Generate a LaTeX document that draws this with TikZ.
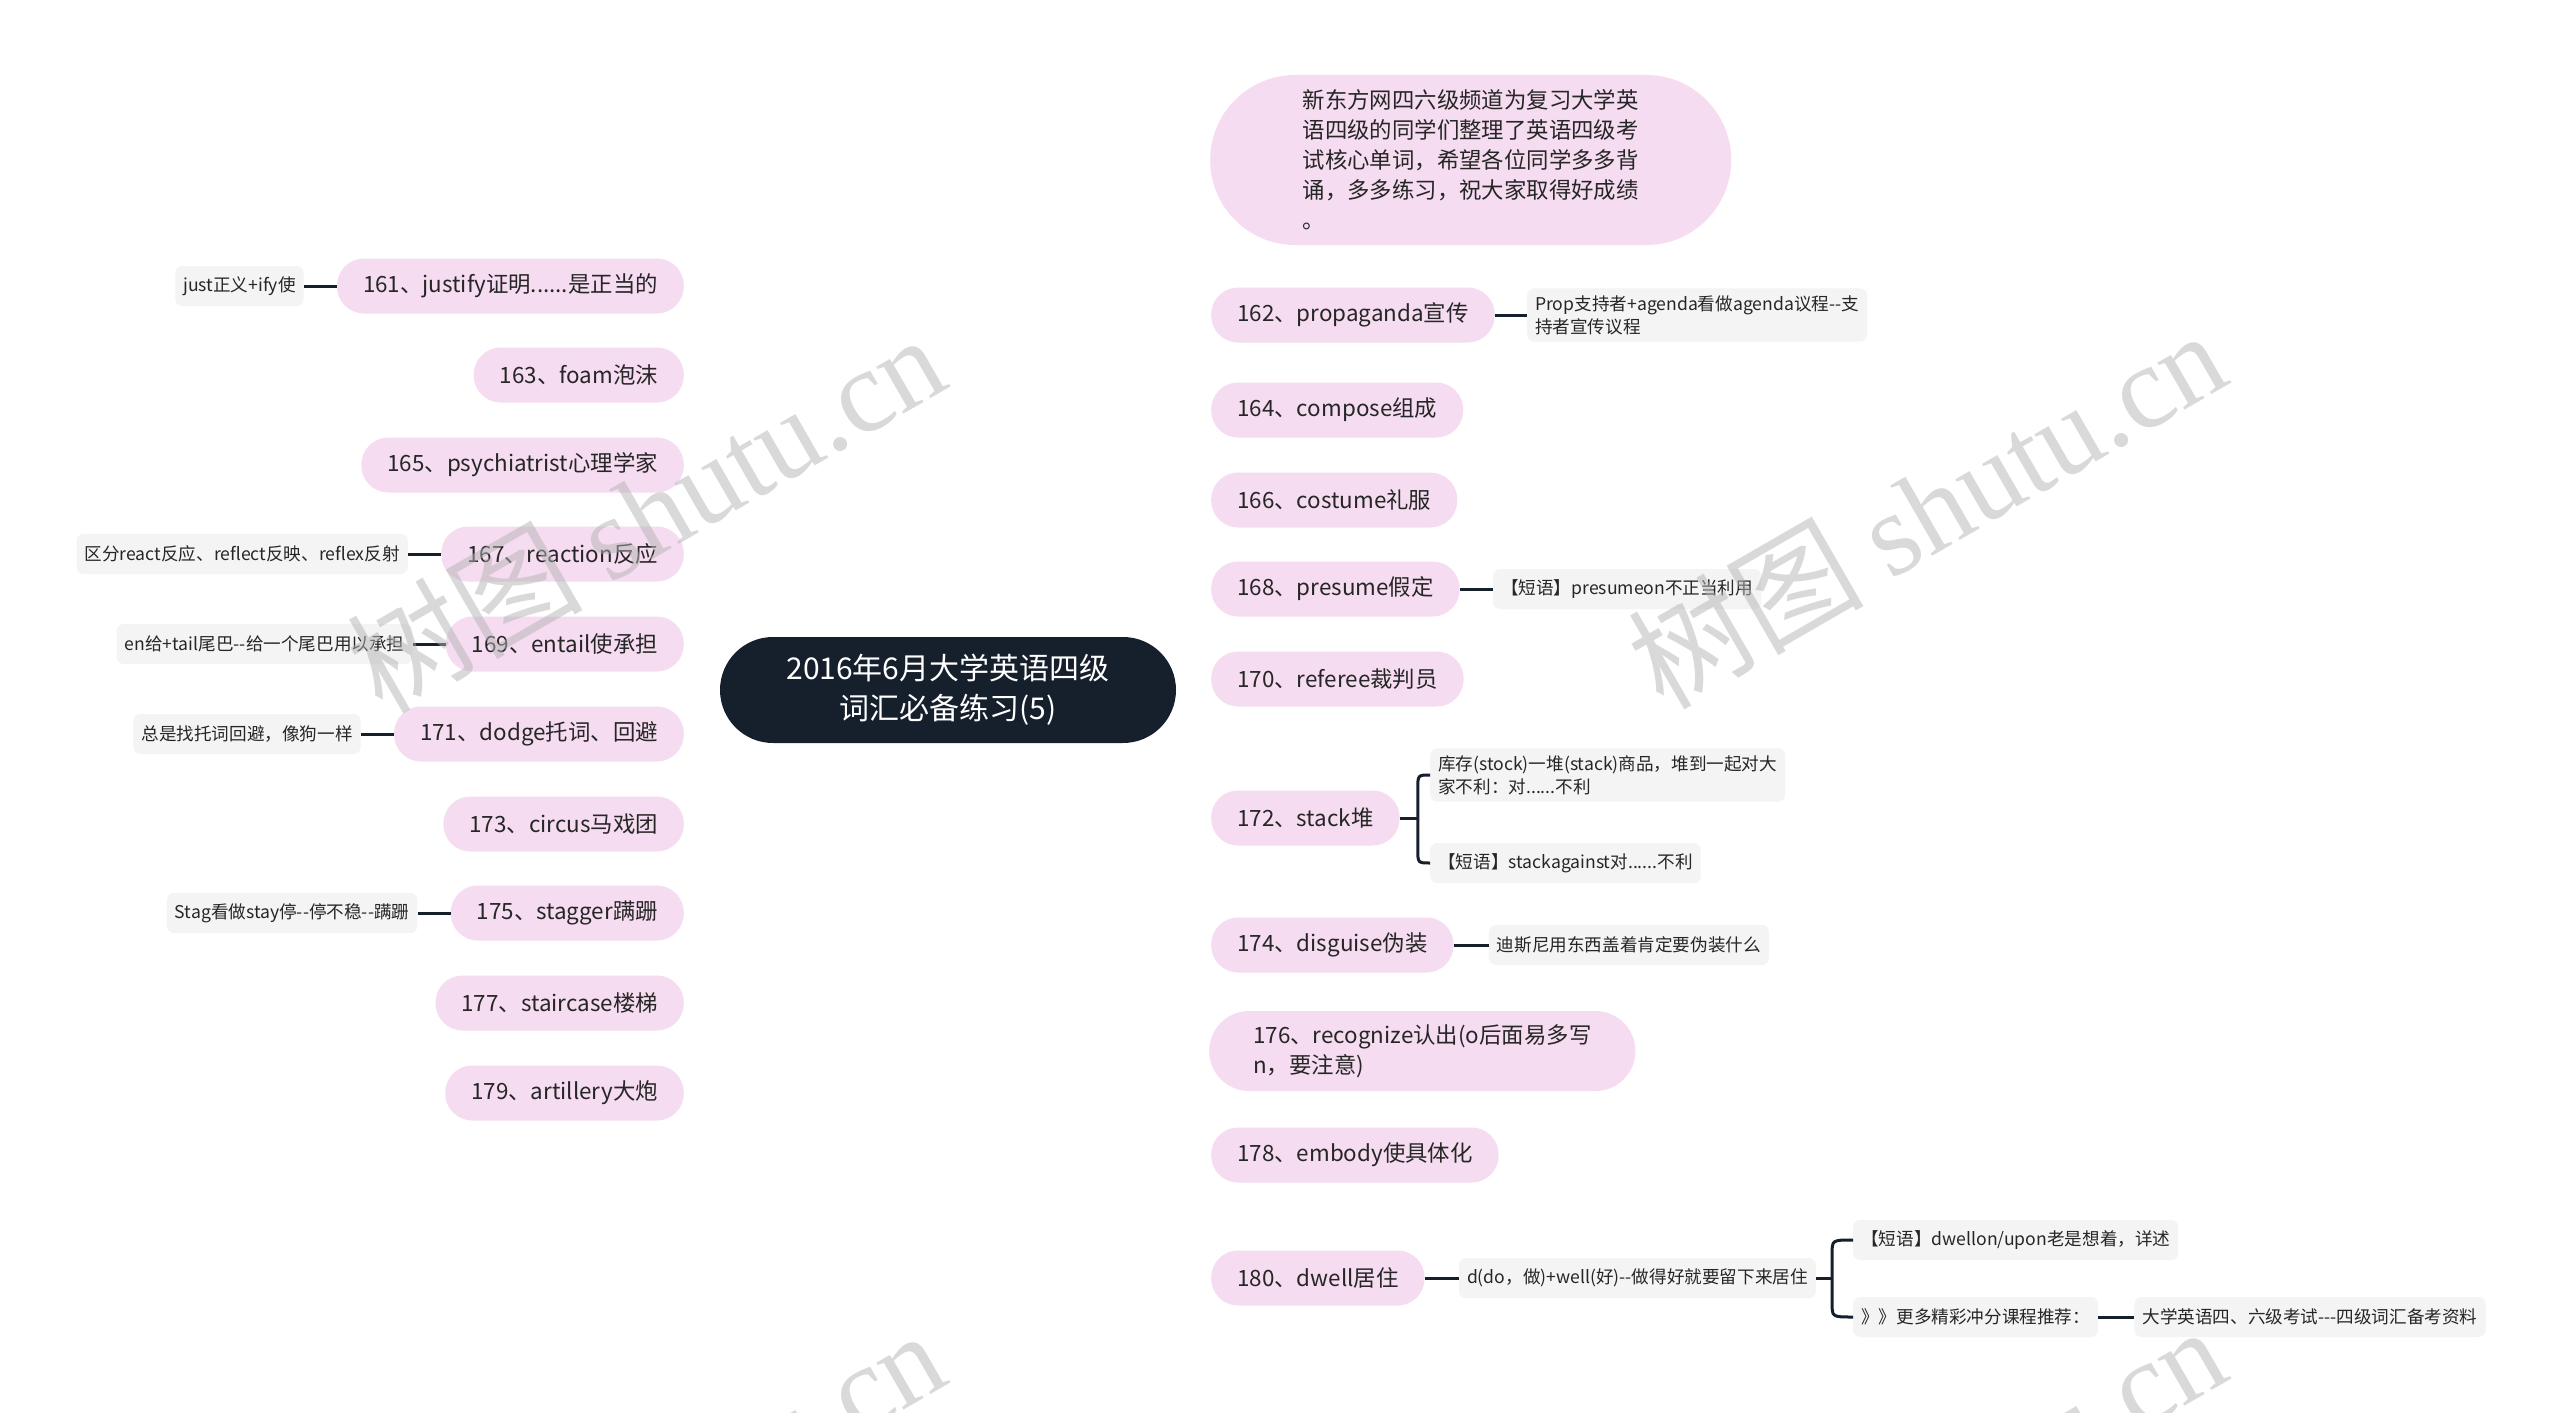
\documentclass[tikz,border=0pt]{standalone}
\usepackage{fontspec}
\setmainfont{Noto Sans CJK SC}
\newfontfamily\wmlatin{Liberation Serif}
\usetikzlibrary{positioning,calc,backgrounds}
\definecolor{pinkfill}{HTML}{F5DCF0}
\definecolor{navy}{HTML}{16202D}
\definecolor{notegray}{HTML}{F4F4F4}
\definecolor{txt}{HTML}{262626}
\definecolor{wm}{HTML}{B4B4B4}
\tikzset{
  mainbox/.style={fill=pinkfill, rounded corners=27pt, minimum height=55pt, inner xsep=26pt, inner ysep=0pt, font=\fontsize{22.4}{30}\selectfont, text=txt},
  notebox/.style={fill=notegray, rounded corners=7pt, minimum height=40pt, inner xsep=8pt, inner ysep=7pt, font=\fontsize{17.6}{23}\selectfont, text=txt, align=left},
  link/.style={draw=navy, line width=2.4pt},
  sublink/.style={draw=navy, line width=3pt},
  watermark/.style={rotate=30, text=wm, opacity=0.5, font=\fontsize{118}{118}\selectfont},
}
\newcommand\branchline[2]{%
  \draw[link] (#1) .. controls ($(#1)!0.667!(#1|-#2)$) and ($(#2)!0.667!(#1|-#2)$) .. (#2);}
\begin{document}
\begin{tikzpicture}[x=1pt,y=-1pt]
\useasboundingbox (0,0) rectangle (2560,1413);
\fill[white] (0,0) rectangle (2560,1413);
\node[fill=navy, rounded corners=53pt, minimum width=456pt, minimum height=106pt, inner sep=0pt, text=white, align=center, font=\fontsize{30}{40}\selectfont] (root) at (948,690) {2016年6月大学英语四级\\词汇必备练习(5)};
% left side
\node[mainbox, anchor=east] (n161) at (684,286) {161、justify证明......是正当的};
\node[mainbox, anchor=east] (n163) at (684,375) {163、foam泡沫};
\node[mainbox, anchor=east] (n165) at (684,465) {165、psychiatrist心理学家};
\node[mainbox, anchor=east] (n167) at (684,554) {167、reaction反应};
\node[mainbox, anchor=east] (n169) at (684,644) {169、entail使承担};
\node[mainbox, anchor=east] (n171) at (684,734) {171、dodge托词、回避};
\node[mainbox, anchor=east] (n173) at (684,824) {173、circus马戏团};
\node[mainbox, anchor=east] (n175) at (684,913) {175、stagger蹒跚};
\node[mainbox, anchor=east] (n177) at (684,1003) {177、staircase楼梯};
\node[mainbox, anchor=east] (n179) at (684,1093) {179、artillery大炮};
% right side
\node[mainbox, anchor=west, align=left, inner xsep=88pt, minimum width=521pt, minimum height=170pt, rounded corners=85pt] (intro) at (1210,160) {新东方网四六级频道为复习大学英\\语四级的同学们整理了英语四级考\\试核心单词，希望各位同学多多背\\诵，多多练习，祝大家取得好成绩\\。};
\node[mainbox, anchor=west] (n162) at (1211,315) {162、propaganda宣传};
\node[mainbox, anchor=west] (n164) at (1211,410) {164、compose组成};
\node[mainbox, anchor=west] (n166) at (1211,500) {166、costume礼服};
\node[mainbox, anchor=west] (n168) at (1211,589) {168、presume假定};
\node[mainbox, anchor=west] (n170) at (1211,679) {170、referee裁判员};
\node[mainbox, anchor=west] (n172) at (1211,818) {172、stack堆};
\node[mainbox, anchor=west] (n174) at (1211,945) {174、disguise伪装};
\node[mainbox, anchor=west, align=left, minimum height=80pt, rounded corners=40pt, inner xsep=44pt] (n176) at (1209,1051) {176、recognize认出(o后面易多写\\n，要注意)};
\node[mainbox, anchor=west] (n178) at (1211,1155) {178、embody使具体化};
\node[mainbox, anchor=west] (n180) at (1211,1278) {180、dwell居住};
% notes
\node[notebox, left=33pt of n161] (m161) {just正义+ify使};
\node[notebox, left=33pt of n167] (m167) {区分react反应、reflect反映、reflex反射};
\node[notebox, left=33pt of n169] (m169) {en给+tail尾巴-{}-给一个尾巴用以承担};
\node[notebox, left=33pt of n171] (m171) {总是找托词回避，像狗一样};
\node[notebox, left=33pt of n175] (m175) {Stag看做stay停-{}-停不稳-{}-蹒跚};
\node[notebox, right=32pt of n162] (m162) {Prop支持者+agenda看做agenda议程-{}-支\\持者宣传议程};
\node[notebox, right=33pt of n168] (m168) {【短语】presumeon不正当利用};
\node[notebox, anchor=west] (m172a) at (1430,775) {库存(stock)一堆(stack)商品，堆到一起对大\\家不利：对......不利};
\node[notebox, anchor=west] (m172b) at (1430,863) {【短语】stackagainst对......不利};
\node[notebox, right=35pt of n174] (m174) {迪斯尼用东西盖着肯定要伪装什么};
\node[notebox, right=34pt of n180] (m180) {d(do，做)+well(好)-{}-做得好就要留下来居住};
\node[notebox, anchor=west] (m180a) at (1853,1240) {【短语】dwellon/upon老是想着，详述};
\node[notebox, anchor=west] (m180b) at (1853,1317) {》》更多精彩冲分课程推荐：};
\node[notebox, right=36pt of m180b] (m180c) {大学英语四、六级考试-{}-{}-四级词汇备考资料};
% connectors
\begin{pgfonlayer}{background}
\branchline{root.north}{intro.west}
\branchline{root.north}{n161.east}
\branchline{root.north}{n163.east}
\branchline{root.north}{n165.east}
\branchline{root.north}{n167.east}
\branchline{root.north}{n169.east}
\branchline{root.south}{n171.east}
\branchline{root.south}{n173.east}
\branchline{root.south}{n175.east}
\branchline{root.south}{n177.east}
\branchline{root.south}{n179.east}
\branchline{root.north}{n162.west}
\branchline{root.north}{n164.west}
\branchline{root.north}{n166.west}
\branchline{root.north}{n168.west}
\branchline{root.north}{n170.west}
\branchline{root.south}{n172.west}
\branchline{root.south}{n174.west}
\branchline{root.south}{n176.west}
\branchline{root.south}{n178.west}
\branchline{root.south}{n180.west}
\end{pgfonlayer}
\draw[sublink] (m161) -- (n161);
\draw[sublink] (m167) -- (n167);
\draw[sublink] (m169) -- (n169);
\draw[sublink] (m171) -- (n171);
\draw[sublink] (m175) -- (n175);
\draw[sublink] (n162) -- (m162);
\draw[sublink] (n168) -- (m168);
\draw[sublink] (n174) -- (m174);
\draw[sublink] (n180) -- (m180);
\draw[sublink] (m180b) -- (m180c);
\coordinate (b172) at ($(n172.east)+(18,0)$);
\draw[sublink] (n172.east) -- (b172);
\draw[sublink] (m172a.west) .. controls (b172|-m172a.west) .. ($(b172|-m172a.west)+(0,14)$) -- ($(b172|-m172b.west)+(0,-14)$) .. controls (b172|-m172b.west) .. (m172b.west);
\coordinate (b180) at ($(m180.east)+(16,0)$);
\draw[sublink] (m180.east) -- (b180);
\draw[sublink] (m180a.west) .. controls (b180|-m180a.west) .. ($(b180|-m180a.west)+(0,14)$) -- ($(b180|-m180b.west)+(0,-14)$) .. controls (b180|-m180b.west) .. (m180b.west);
% watermarks
\node[watermark] (w1) at (645,512) {树图 {\wmlatin shutu.cn}};
\node[watermark] (w2) at (1926,508) {树图 {\wmlatin shutu.cn}};
\node[watermark] (w3) at (645,1508) {树图 {\wmlatin shutu.cn}};
\node[watermark] (w4) at (1926,1504) {树图 {\wmlatin shutu.cn}};
\end{tikzpicture}
\end{document}
